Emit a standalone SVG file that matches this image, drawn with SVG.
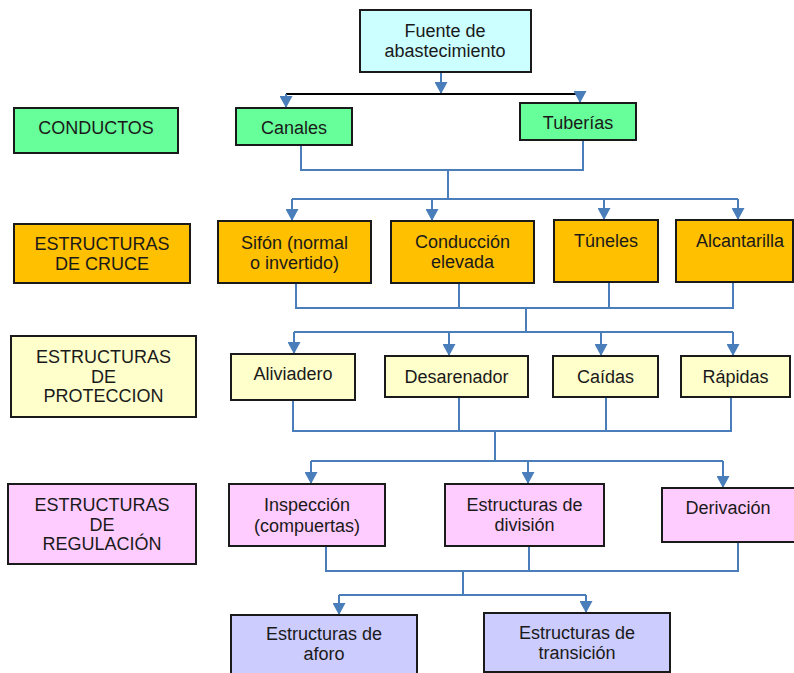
<svg xmlns="http://www.w3.org/2000/svg" width="794" height="673" viewBox="0 0 794 673">
<defs>
<marker id="ah" markerUnits="userSpaceOnUse" markerWidth="12" markerHeight="13" refX="12" refY="6.5" orient="auto" viewBox="0 0 12 13">
<path d="M0,0 L12,6.5 L0,13 Z" fill="#4a7ebb"/>
</marker>
<style>
.b{stroke:#1a1a1a;stroke-width:2}
.t{font-family:"Liberation Sans",Arial,sans-serif;font-size:18px;fill:#1a1a1a;text-anchor:middle}
.c{fill:none;stroke:#4a7ebb;stroke-width:2}
.a{fill:none;stroke:#4a7ebb;stroke-width:2;marker-end:url(#ah)}
.k{fill:none;stroke:#000;stroke-width:2}
</style>
</defs>
<rect width="794" height="673" fill="#fff"/>
<g id="connectors">
<path class="a" d="M441,73 V94"/>
<path class="k" d="M286,94 H580"/>
<path class="a" d="M286,94 V108"/>
<path class="a" d="M580,94 V103"/>
<path class="c" d="M301,145 V170 H583 V140"/>
<path class="c" d="M448,170 V199"/>
<path class="c" d="M292,199 H738"/>
<path class="a" d="M292,199 V221"/>
<path class="a" d="M432,199 V221"/>
<path class="a" d="M604,199 V220"/>
<path class="a" d="M738,199 V220"/>
<path class="c" d="M296,283 V308 H733 V282"/>
<path class="c" d="M459,283 V308"/>
<path class="c" d="M609,282 V308"/>
<path class="c" d="M526,308 V332"/>
<path class="c" d="M294,332 H733"/>
<path class="a" d="M294,332 V354"/>
<path class="a" d="M449,332 V356"/>
<path class="a" d="M601,332 V356"/>
<path class="a" d="M733,332 V356"/>
<path class="c" d="M293,400 V431 H731 V397"/>
<path class="c" d="M459,397 V431"/>
<path class="c" d="M606,397 V431"/>
<path class="c" d="M495,431 V461"/>
<path class="c" d="M311,461 H723"/>
<path class="a" d="M311,461 V484"/>
<path class="a" d="M528,461 V484"/>
<path class="a" d="M723,461 V488"/>
<path class="c" d="M326,546 V571 H738 V542"/>
<path class="c" d="M529,546 V571"/>
<path class="c" d="M463,571 V595"/>
<path class="c" d="M339,595 H586"/>
<path class="a" d="M339,595 V615"/>
<path class="a" d="M586,595 V613"/>
</g>
<g id="fuente"><rect class="b" x="360" y="10" width="171" height="62" fill="#ccffff"/><text class="t" x="445" y="36.5">Fuente de</text><text class="t" x="445" y="56.5">abastecimiento</text></g>
<g id="conductos"><rect class="b" x="14" y="108" width="164" height="45" fill="#66ff99"/><text class="t" x="96" y="133.5">CONDUCTOS</text></g>
<g id="canales"><rect class="b" x="236" y="108" width="116" height="37" fill="#66ff99"/><text class="t" x="294" y="133.5">Canales</text></g>
<g id="tuberias"><rect class="b" x="520" y="103" width="116" height="37" fill="#66ff99"/><text class="t" x="578" y="128.5">Tuberías</text></g>
<g id="cruce"><rect class="b" x="14" y="224" width="176" height="59" fill="#ffc000"/><text class="t" x="102" y="249.5">ESTRUCTURAS</text><text class="t" x="102" y="269.5">DE CRUCE</text></g>
<g id="sifon"><rect class="b" x="218" y="221" width="153" height="62" fill="#ffc000"/><text class="t" x="294.5" y="248.5">Sifón (normal</text><text class="t" x="294.5" y="268.5">o invertido)</text></g>
<g id="conduccion"><rect class="b" x="391" y="221" width="143" height="62" fill="#ffc000"/><text class="t" x="462.5" y="247.5">Conducción</text><text class="t" x="462.5" y="267.5">elevada</text></g>
<g id="tuneles"><rect class="b" x="554" y="220" width="104" height="62" fill="#ffc000"/><text class="t" x="606" y="246.5">Túneles</text></g>
<g id="alcantarilla"><rect class="b" x="676" y="220" width="117" height="62" fill="#ffc000"/><text class="t" x="740" y="246.5">Alcantarilla</text></g>
<g id="proteccion"><rect class="b" x="11" y="336" width="185" height="81" fill="#ffffcc"/><text class="t" x="103.5" y="362.5">ESTRUCTURAS</text><text class="t" x="103.5" y="382.5">DE</text><text class="t" x="103.5" y="401.5">PROTECCION</text></g>
<g id="aliviadero"><rect class="b" x="231" y="354" width="124" height="46" fill="#ffffcc"/><text class="t" x="293" y="379.5">Aliviadero</text></g>
<g id="desarenador"><rect class="b" x="385" y="356" width="143" height="41" fill="#ffffcc"/><text class="t" x="456.5" y="382.5">Desarenador</text></g>
<g id="caidas"><rect class="b" x="553" y="356" width="105" height="41" fill="#ffffcc"/><text class="t" x="605.5" y="382.5">Caídas</text></g>
<g id="rapidas"><rect class="b" x="681" y="356" width="109" height="41" fill="#ffffcc"/><text class="t" x="735.5" y="382.5">Rápidas</text></g>
<g id="regulacion"><rect class="b" x="8" y="484" width="188" height="80" fill="#ffccff"/><text class="t" x="102" y="510.5">ESTRUCTURAS</text><text class="t" x="102" y="531">DE</text><text class="t" x="102" y="549.5">REGULACIÓN</text></g>
<g id="inspeccion"><rect class="b" x="229" y="484" width="156" height="62" fill="#ffccff"/><text class="t" x="307" y="510.5">Inspección</text><text class="t" x="307" y="531.5">(compuertas)</text></g>
<g id="division"><rect class="b" x="445" y="484" width="159" height="62" fill="#ffccff"/><text class="t" x="524.5" y="510.5">Estructuras de</text><text class="t" x="524.5" y="530.5">división</text></g>
<g id="derivacion"><rect class="b" x="662" y="488" width="133" height="54" fill="#ffccff"/><text class="t" x="728" y="513.5">Derivación</text></g>
<g id="aforo"><rect class="b" x="231" y="615" width="186" height="62" fill="#ccccff"/><text class="t" x="324" y="639.5">Estructuras de</text><text class="t" x="324" y="659.5">aforo</text></g>
<g id="transicion"><rect class="b" x="484" y="613" width="186" height="59" fill="#ccccff"/><text class="t" x="577" y="638.5">Estructuras de</text><text class="t" x="577" y="659">transición</text></g>
</svg>
